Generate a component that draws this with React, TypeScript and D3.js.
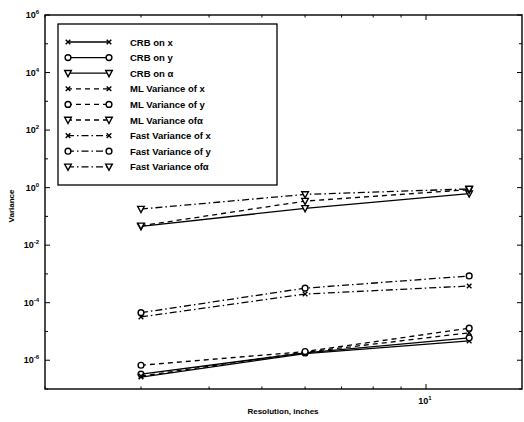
import React from "react";
import * as d3 from "d3";

const xVals = [3, 6, 12];
const crbX = [2.6e-7, 1.7e-6, 4.7e-6];
const crbY = [3.3e-7, 1.8e-6, 6.0e-6];
const crbA = [0.045, 0.19, 0.62];
const mlX = [2.8e-7, 1.9e-6, 9.0e-6];
const mlY = [6.7e-7, 2.0e-6, 1.3e-5];
const mlA = [0.047, 0.34, 0.85];
const fastX = [3.2e-5, 2.0e-4, 3.8e-4];
const fastY = [4.5e-5, 3.2e-4, 8.5e-4];
const fastA = [0.18, 0.58, 0.9];

const seriesNames = [
  "CRB on x", "CRB on y", "CRB on \u03b1",
  "ML Variance of x", "ML Variance of y", "ML Variance of\u03b1",
  "Fast Variance of x", "Fast Variance of y", "Fast Variance of\u03b1",
];
const seriesValues = [crbX, crbY, crbA, mlX, mlY, mlA, fastX, fastY, fastA];
const markers = ["x", "o", "v", "x", "o", "v", "x", "o", "v"];
const dashes = ["", "", "", "5,4", "5,4", "5,4", "7,3,1.5,3", "7,3,1.5,3", "7,3,1.5,3"];

const yMajor = [-6, -4, -2, 0, 2, 4, 6];
const xMajor = [10];

const W = 524, H = 422;
const L = 45, R = 522, T = 15, B = 389;
const FONT = "'Liberation Sans', Arial, sans-serif";

function Marker({ type, x, y }: { type: string; x: number; y: number }) {
  if (type === "x") {
    const s = 2.3;
    return (
      <path d={`M${x - s},${y - s}L${x + s},${y + s}M${x - s},${y + s}L${x + s},${y - s}`} stroke="#000" strokeWidth={1.4} fill="none" />
    );
  }
  if (type === "o") {
    return <circle cx={x} cy={y} r={2.9} stroke="#000" strokeWidth={1.4} fill="#fff" />;
  }
  const s = 3.3;
  return (
    <path d={`M${x - s},${y - 2.7}L${x + s},${y - 2.7}L${x},${y + 3.5}Z`} stroke="#000" strokeWidth={1.4} fill="#fff" strokeLinejoin="miter" />
  );
}

export default function App() {
  const x = d3.scaleLog().domain([2, 15]).range([L, R]);
  const y = d3.scaleLog().domain([1e-7, 1e6]).range([B, T]);
  const line = d3.line<number>().x((_, i) => x(xVals[i])).y((v) => y(v));

  const yDecades = d3.range(-7, 7);
  const xMinor = [2, 3, 4, 5, 6, 7, 8, 9].filter((v) => v >= 2 && v <= 15);

  const legendRows = seriesNames.map((n, i) => ({ n, i, cy: 42 + i * 15.6 }));

  return (
    <svg width={W} height={H} style={{ position: "absolute", left: 0, top: 0, background: "#fff" }} fontFamily={FONT}>
      <rect x={0} y={0} width={W} height={H} fill="#fff" />
      <rect x={L} y={T} width={R - L} height={B - T} fill="none" stroke="#000" strokeWidth={1.4} />
      {yDecades.map((d) => {
        const yy = y(Math.pow(10, d));
        const len = d % 2 === 0 ? 5 : 3;
        return (
          <g key={"yt" + d}>
            <line x1={L} x2={L + len} y1={yy} y2={yy} stroke="#000" strokeWidth={1} />
            <line x1={R} x2={R - len} y1={yy} y2={yy} stroke="#000" strokeWidth={1} />
          </g>
        );
      })}
      {yMajor.map((d) => {
        const yy = y(Math.pow(10, d));
        return (
          <text key={"yl" + d} x={L - 6} y={yy + 3} textAnchor="end" fontSize={9} fontWeight="bold">
            10
            <tspan dy={-4} fontSize={6}>{d}</tspan>
          </text>
        );
      })}
      {xMinor.map((v) => (
        <g key={"xm" + v}>
          <line x1={x(v)} x2={x(v)} y1={B} y2={B - 2.5} stroke="#000" strokeWidth={1} />
          <line x1={x(v)} x2={x(v)} y1={T} y2={T + 2.5} stroke="#000" strokeWidth={1} />
        </g>
      ))}
      {xMajor.map((v) => (
        <g key={"xM" + v}>
          <line x1={x(v)} x2={x(v)} y1={B} y2={B - 5} stroke="#000" strokeWidth={1} />
          <line x1={x(v)} x2={x(v)} y1={T} y2={T + 5} stroke="#000" strokeWidth={1} />
          <text x={x(v) - 1} y={B + 15} textAnchor="middle" fontSize={9} fontWeight="bold">
            10
            <tspan dy={-4} fontSize={6}>{Math.round(Math.log10(v))}</tspan>
          </text>
        </g>
      ))}
      <text x={283} y={414} textAnchor="middle" fontSize={8} fontWeight="bold">Resolution, inches</text>
      <text transform={`translate(14,${(T + B) / 2 + 4}) rotate(-90)`} textAnchor="middle" fontSize={8} fontWeight="bold">Variance</text>
      {seriesValues.map((vals, i) => (
        <g key={"s" + i}>
          <path d={line(vals) || ""} fill="none" stroke="#000" strokeWidth={1.3} strokeDasharray={dashes[i]} />
          {vals.map((v, j) => (
            <Marker key={j} type={markers[i]} x={x(xVals[j])} y={y(v)} />
          ))}
        </g>
      ))}
      <rect x={58} y={24} width={219} height={161} fill="#fff" stroke="#000" strokeWidth={1.3} />
      {legendRows.map(({ n, i, cy }) => (
        <g key={"lg" + i}>
          <line x1={67} x2={110} y1={cy} y2={cy} stroke="#000" strokeWidth={1.3} strokeDasharray={dashes[i]} />
          <Marker type={markers[i]} x={68} y={cy} />
          <Marker type={markers[i]} x={109} y={cy} />
          <text x={130} y={cy + 3.5} fontSize={9.5} fontWeight="bold">{n}</text>
        </g>
      ))}
    </svg>
  );
}
